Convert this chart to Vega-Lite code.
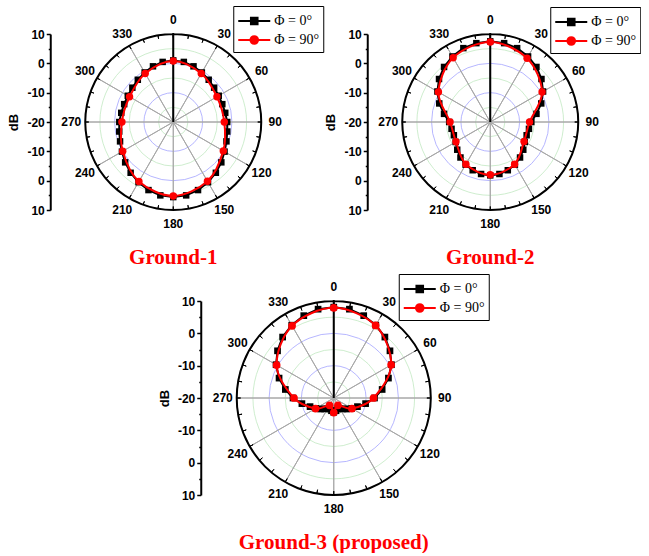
{
"$schema": "https://vega.github.io/schema/vega-lite/v6.json",
"background": "white",
"padding": {"left": 7, "top": 5, "right": 0, "bottom": 0},
"datasets": {
"spokes": [{"a":0,"a2":30},{"a":30,"a2":60},{"a":60,"a2":90},{"a":90,"a2":120},{"a":120,"a2":150},{"a":150,"a2":180},{"a":180,"a2":210},{"a":210,"a2":240},{"a":240,"a2":270},{"a":270,"a2":300},{"a":300,"a2":330},{"a":330,"a2":360}],
"circles": [{"r":5},{"r":10},{"r":15},{"r":20},{"r":25}],
"outer": [{"r":30}],
"ticks": [{"a":0},{"a":10},{"a":20},{"a":30},{"a":40},{"a":50},{"a":60},{"a":70},{"a":80},{"a":90},{"a":100},{"a":110},{"a":120},{"a":130},{"a":140},{"a":150},{"a":160},{"a":170},{"a":180},{"a":190},{"a":200},{"a":210},{"a":220},{"a":230},{"a":240},{"a":250},{"a":260},{"a":270},{"a":280},{"a":290},{"a":300},{"a":310},{"a":320},{"a":330},{"a":340},{"a":350}],
"g1": [
{"a":0,"db":1.0,"s":"Φ = 0°"},{"a":10,"db":0.8,"s":"Φ = 0°"},{"a":20,"db":0.2,"s":"Φ = 0°"},{"a":30,"db":-0.5,"s":"Φ = 0°"},{"a":40,"db":-1.2,"s":"Φ = 0°"},{"a":50,"db":-1.8,"s":"Φ = 0°"},{"a":60,"db":-2.1,"s":"Φ = 0°"},{"a":70,"db":-2.2,"s":"Φ = 0°"},{"a":80,"db":-2.0,"s":"Φ = 0°"},{"a":90,"db":-1.6,"s":"Φ = 0°"},{"a":100,"db":-1.3,"s":"Φ = 0°"},{"a":110,"db":-0.7,"s":"Φ = 0°"},{"a":120,"db":0.2,"s":"Φ = 0°"},{"a":130,"db":1.4,"s":"Φ = 0°"},{"a":140,"db":2.6,"s":"Φ = 0°"},{"a":150,"db":3.7,"s":"Φ = 0°"},{"a":160,"db":4.7,"s":"Φ = 0°"},{"a":170,"db":5.4,"s":"Φ = 0°"},{"a":180,"db":5.6,"s":"Φ = 0°"},{"a":190,"db":5.4,"s":"Φ = 0°"},{"a":200,"db":4.7,"s":"Φ = 0°"},{"a":210,"db":3.7,"s":"Φ = 0°"},{"a":220,"db":2.6,"s":"Φ = 0°"},{"a":230,"db":1.4,"s":"Φ = 0°"},{"a":240,"db":0.2,"s":"Φ = 0°"},{"a":250,"db":-0.7,"s":"Φ = 0°"},{"a":260,"db":-1.3,"s":"Φ = 0°"},{"a":270,"db":-1.6,"s":"Φ = 0°"},{"a":280,"db":-2.0,"s":"Φ = 0°"},{"a":290,"db":-2.2,"s":"Φ = 0°"},{"a":300,"db":-2.1,"s":"Φ = 0°"},{"a":310,"db":-1.8,"s":"Φ = 0°"},{"a":320,"db":-1.2,"s":"Φ = 0°"},{"a":330,"db":-0.5,"s":"Φ = 0°"},{"a":340,"db":0.2,"s":"Φ = 0°"},{"a":350,"db":0.8,"s":"Φ = 0°"},
{"a":0,"db":0.8,"s":"Φ = 90°"},{"a":30,"db":-0.9,"s":"Φ = 90°"},{"a":60,"db":-2.8,"s":"Φ = 90°"},{"a":90,"db":-2.6,"s":"Φ = 90°"},{"a":120,"db":-0.3,"s":"Φ = 90°"},{"a":150,"db":3.3,"s":"Φ = 90°"},{"a":180,"db":5.2,"s":"Φ = 90°"},{"a":210,"db":3.4,"s":"Φ = 90°"},{"a":240,"db":-0.1,"s":"Φ = 90°"},{"a":270,"db":-2.5,"s":"Φ = 90°"},{"a":300,"db":-2.8,"s":"Φ = 90°"},{"a":330,"db":-0.9,"s":"Φ = 90°"}
],
"g2": [
{"a":0,"db":7.5,"s":"Φ = 0°"},{"a":10,"db":7.3,"s":"Φ = 0°"},{"a":20,"db":6.8,"s":"Φ = 0°"},{"a":30,"db":5.8,"s":"Φ = 0°"},{"a":40,"db":4.5,"s":"Φ = 0°"},{"a":50,"db":2.8,"s":"Φ = 0°"},{"a":60,"db":0.8,"s":"Φ = 0°"},{"a":70,"db":-1.5,"s":"Φ = 0°"},{"a":80,"db":-4.0,"s":"Φ = 0°"},{"a":90,"db":-6.0,"s":"Φ = 0°"},{"a":100,"db":-6.6,"s":"Φ = 0°"},{"a":110,"db":-6.8,"s":"Φ = 0°"},{"a":120,"db":-6.4,"s":"Φ = 0°"},{"a":130,"db":-5.3,"s":"Φ = 0°"},{"a":140,"db":-4.2,"s":"Φ = 0°"},{"a":150,"db":-3.2,"s":"Φ = 0°"},{"a":160,"db":-2.5,"s":"Φ = 0°"},{"a":170,"db":-2.0,"s":"Φ = 0°"},{"a":180,"db":-1.8,"s":"Φ = 0°"},{"a":190,"db":-2.0,"s":"Φ = 0°"},{"a":200,"db":-2.5,"s":"Φ = 0°"},{"a":210,"db":-3.2,"s":"Φ = 0°"},{"a":220,"db":-4.2,"s":"Φ = 0°"},{"a":230,"db":-5.3,"s":"Φ = 0°"},{"a":240,"db":-6.4,"s":"Φ = 0°"},{"a":250,"db":-6.8,"s":"Φ = 0°"},{"a":260,"db":-6.6,"s":"Φ = 0°"},{"a":270,"db":-6.0,"s":"Φ = 0°"},{"a":280,"db":-4.0,"s":"Φ = 0°"},{"a":290,"db":-1.5,"s":"Φ = 0°"},{"a":300,"db":0.8,"s":"Φ = 0°"},{"a":310,"db":2.8,"s":"Φ = 0°"},{"a":320,"db":4.5,"s":"Φ = 0°"},{"a":330,"db":5.8,"s":"Φ = 0°"},{"a":340,"db":6.8,"s":"Φ = 0°"},{"a":350,"db":7.3,"s":"Φ = 0°"},
{"a":0,"db":7.3,"s":"Φ = 90°"},{"a":30,"db":5.1,"s":"Φ = 90°"},{"a":60,"db":0.4,"s":"Φ = 90°"},{"a":90,"db":-6.6,"s":"Φ = 90°"},{"a":120,"db":-6.7,"s":"Φ = 90°"},{"a":150,"db":-3.4,"s":"Φ = 90°"},{"a":180,"db":-2.0,"s":"Φ = 90°"},{"a":210,"db":-3.4,"s":"Φ = 90°"},{"a":240,"db":-6.5,"s":"Φ = 90°"},{"a":270,"db":-6.3,"s":"Φ = 90°"},{"a":300,"db":0.4,"s":"Φ = 90°"},{"a":330,"db":5.3,"s":"Φ = 90°"}
],
"g3": [
{"a":0,"db":8.1,"s":"Φ = 0°"},{"a":10,"db":7.9,"s":"Φ = 0°"},{"a":20,"db":7.1,"s":"Φ = 0°"},{"a":30,"db":6.0,"s":"Φ = 0°"},{"a":40,"db":4.6,"s":"Φ = 0°"},{"a":50,"db":2.7,"s":"Φ = 0°"},{"a":60,"db":0.6,"s":"Φ = 0°"},{"a":70,"db":-2.0,"s":"Φ = 0°"},{"a":80,"db":-4.8,"s":"Φ = 0°"},{"a":90,"db":-7.4,"s":"Φ = 0°"},{"a":100,"db":-10.0,"s":"Φ = 0°"},{"a":110,"db":-12.2,"s":"Φ = 0°"},{"a":120,"db":-13.6,"s":"Φ = 0°"},{"a":130,"db":-14.7,"s":"Φ = 0°"},{"a":140,"db":-15.6,"s":"Φ = 0°"},{"a":150,"db":-16.2,"s":"Φ = 0°"},{"a":160,"db":-16.4,"s":"Φ = 0°"},{"a":170,"db":-16.0,"s":"Φ = 0°"},{"a":180,"db":-15.6,"s":"Φ = 0°"},{"a":190,"db":-16.0,"s":"Φ = 0°"},{"a":200,"db":-16.4,"s":"Φ = 0°"},{"a":210,"db":-16.2,"s":"Φ = 0°"},{"a":220,"db":-15.6,"s":"Φ = 0°"},{"a":230,"db":-14.7,"s":"Φ = 0°"},{"a":240,"db":-13.6,"s":"Φ = 0°"},{"a":250,"db":-12.2,"s":"Φ = 0°"},{"a":260,"db":-10.0,"s":"Φ = 0°"},{"a":270,"db":-7.4,"s":"Φ = 0°"},{"a":280,"db":-4.8,"s":"Φ = 0°"},{"a":290,"db":-2.0,"s":"Φ = 0°"},{"a":300,"db":0.6,"s":"Φ = 0°"},{"a":310,"db":2.7,"s":"Φ = 0°"},{"a":320,"db":4.6,"s":"Φ = 0°"},{"a":330,"db":6.0,"s":"Φ = 0°"},{"a":340,"db":7.1,"s":"Φ = 0°"},{"a":350,"db":7.9,"s":"Φ = 0°"},
{"a":0,"db":7.9,"s":"Φ = 90°"},{"a":30,"db":5.9,"s":"Φ = 90°"},{"a":60,"db":0.5,"s":"Φ = 90°"},{"a":90,"db":-7.7,"s":"Φ = 90°"},{"a":120,"db":-13.5,"s":"Φ = 90°"},{"a":150,"db":-17.4,"s":"Φ = 90°"},{"a":180,"db":-15.5,"s":"Φ = 90°"},{"a":210,"db":-17.4,"s":"Φ = 90°"},{"a":240,"db":-13.5,"s":"Φ = 90°"},{"a":270,"db":-7.7,"s":"Φ = 90°"},{"a":300,"db":0.4,"s":"Φ = 90°"},{"a":330,"db":5.8,"s":"Φ = 90°"}
]
},
"vconcat": [
{"hconcat": [
{"width": 176, "height": 176, "title": {"text": "Ground-1"},
 "layer": [
  {"data": {"name": "circles"}, "mark": {"type": "arc", "filled": false, "strokeWidth": 0.8},
   "encoding": {"theta": {"datum": 0, "scale": {"domain": [0, 360], "range": [0, 6.283185307]}}, "theta2": {"datum": 360}, "radius": {"field": "r", "type": "quantitative", "stack": null, "scale": {"type": "linear", "domain": [0, 30], "range": [0, 88], "zero": true}}, "stroke": {"condition": {"test": "datum.r % 10 == 0", "value": "#a3a3ff"}, "value": "#c2e8c2"}}},
  {"data": {"name": "spokes"}, "mark": {"type": "arc", "filled": false, "stroke": "#a8a8a8", "strokeWidth": 1},
   "encoding": {"theta": {"field": "a", "type": "quantitative", "scale": {"domain": [0, 360], "range": [0, 6.283185307]}}, "theta2": {"field": "a2"}, "radius": {"datum": 30, "scale": {"type": "linear", "domain": [0, 30], "range": [0, 88], "zero": true}}}},
  {"data": {"name": "ticks"}, "mark": {"type": "arc", "filled": false, "stroke": "#000000", "strokeWidth": 1},
   "encoding": {"theta": {"field": "a", "type": "quantitative", "scale": {"domain": [0, 360], "range": [0, 6.283185307]}}, "theta2": {"field": "a"}, "radius": {"datum": 30, "scale": {"type": "linear", "domain": [0, 30], "range": [0, 88], "zero": true}}, "radius2": {"datum": 28.8}}},
  {"data": {"name": "outer"}, "mark": {"type": "arc", "filled": false, "stroke": "#000000", "strokeWidth": 2},
   "encoding": {"theta": {"datum": 0, "scale": {"domain": [0, 360], "range": [0, 6.283185307]}}, "theta2": {"datum": 360}, "radius": {"field": "r", "type": "quantitative", "stack": null, "scale": {"type": "linear", "domain": [0, 30], "range": [0, 88], "zero": true}}}},
  {"data": {"name": "spokes"}, "mark": {"type": "text", "font": "Liberation Sans", "fontSize": 12, "fontWeight": "bold", "color": "#000000", "radiusOffset": 14, "align": "center", "baseline": "middle"},
   "encoding": {"theta": {"field": "a", "type": "quantitative", "scale": {"domain": [0, 360], "range": [0, 6.283185307]}}, "radius": {"datum": 30, "scale": {"type": "linear", "domain": [0, 30], "range": [0, 88], "zero": true}}, "text": {"field": "a", "type": "quantitative"}}},
  {"data": {"name": "g1"}, "transform": [{"filter": "datum.s == 'Φ = 0°'"}, {"calculate": "(datum.db + 20) * sin(datum.a * PI / 180)", "as": "x"}, {"calculate": "(datum.db + 20) * cos(datum.a * PI / 180)", "as": "y"}],
   "mark": {"type": "line", "interpolate": "linear-closed", "strokeWidth": 2},
   "encoding": {"x": {"field": "x", "type": "quantitative", "scale": {"domain": [-30, 30], "nice": false, "zero": false}, "axis": null},
    "y": {"field": "y", "type": "quantitative", "scale": {"domain": [-30, 30], "nice": false, "zero": false}, "axis": {"title": "dB", "offset": 35, "tickCount": 40, "labelOverlap": false, "labelBound": false, "values": [-30,-25,-20,-15,-10,-5,0,5,10,15,20,25,30], "labelExpr": "datum.value % 10 == 0 ? '' + (abs(datum.value) - 20) : ''", "tickSize": {"condition": {"test": "datum.value % 10 == 0", "value": 4}, "value": 2}}},
    "order": {"field": "a", "type": "quantitative"},
    "color": {"field": "s", "type": "nominal", "scale": {"domain": ["Φ = 0°", "Φ = 90°"], "range": ["#000000", "#ff0000"]},
     "legend": {"title": null, "orient": "none", "legendX": 148, "legendY": -28,
      "encode": {"symbols": {"update": {"shape": {"signal": "datum.value == 'Φ = 0°' ? 'M-1.6,0H1.6M-0.33,-0.33H0.33V0.33H-0.33Z' : 'M-1.6,0H1.6M0.38,0A0.38,0.38,0,1,1,-0.38,0A0.38,0.38,0,1,1,0.38,0Z'"}, "fill": {"signal": "datum.value == 'Φ = 0°' ? '#000000' : '#ff0000'"}, "stroke": {"signal": "datum.value == 'Φ = 0°' ? '#000000' : '#ff0000'"}}}}}}}},
  {"data": {"name": "g1"}, "transform": [{"filter": "datum.s == 'Φ = 0°'"}, {"calculate": "(datum.db + 20) * sin(datum.a * PI / 180)", "as": "x"}, {"calculate": "(datum.db + 20) * cos(datum.a * PI / 180)", "as": "y"}],
   "mark": {"type": "point", "shape": "square", "filled": true, "size": 42, "opacity": 1},
   "encoding": {"x": {"field": "x", "type": "quantitative", "axis": null}, "y": {"field": "y", "type": "quantitative"},
    "color": {"field": "s", "type": "nominal", "scale": {"domain": ["Φ = 0°", "Φ = 90°"], "range": ["#000000", "#ff0000"]}}}},
  {"data": {"name": "g1"}, "transform": [{"filter": "datum.s == 'Φ = 90°'"}, {"calculate": "(datum.db + 20) * sin(datum.a * PI / 180)", "as": "x"}, {"calculate": "(datum.db + 20) * cos(datum.a * PI / 180)", "as": "y"}],
   "mark": {"type": "line", "interpolate": "cardinal-closed", "strokeWidth": 2},
   "encoding": {"x": {"field": "x", "type": "quantitative", "axis": null}, "y": {"field": "y", "type": "quantitative"}, "order": {"field": "a", "type": "quantitative"},
    "color": {"field": "s", "type": "nominal", "scale": {"domain": ["Φ = 0°", "Φ = 90°"], "range": ["#000000", "#ff0000"]}}}},
  {"data": {"name": "g1"}, "transform": [{"filter": "datum.s == 'Φ = 90°'"}, {"calculate": "(datum.db + 20) * sin(datum.a * PI / 180)", "as": "x"}, {"calculate": "(datum.db + 20) * cos(datum.a * PI / 180)", "as": "y"}],
   "mark": {"type": "point", "shape": "circle", "filled": true, "size": 55, "opacity": 1},
   "encoding": {"x": {"field": "x", "type": "quantitative", "axis": null}, "y": {"field": "y", "type": "quantitative"},
    "color": {"field": "s", "type": "nominal", "scale": {"domain": ["Φ = 0°", "Φ = 90°"], "range": ["#000000", "#ff0000"]}}}}
 ]},
{"width": 176, "height": 176, "title": {"text": "Ground-2"},
 "layer": [
  {"data": {"name": "circles"}, "mark": {"type": "arc", "filled": false, "strokeWidth": 0.8},
   "encoding": {"theta": {"datum": 0, "scale": {"domain": [0, 360], "range": [0, 6.283185307]}}, "theta2": {"datum": 360}, "radius": {"field": "r", "type": "quantitative", "stack": null, "scale": {"type": "linear", "domain": [0, 30], "range": [0, 88], "zero": true}}, "stroke": {"condition": {"test": "datum.r % 10 == 0", "value": "#a3a3ff"}, "value": "#c2e8c2"}}},
  {"data": {"name": "spokes"}, "mark": {"type": "arc", "filled": false, "stroke": "#a8a8a8", "strokeWidth": 1},
   "encoding": {"theta": {"field": "a", "type": "quantitative", "scale": {"domain": [0, 360], "range": [0, 6.283185307]}}, "theta2": {"field": "a2"}, "radius": {"datum": 30, "scale": {"type": "linear", "domain": [0, 30], "range": [0, 88], "zero": true}}}},
  {"data": {"name": "ticks"}, "mark": {"type": "arc", "filled": false, "stroke": "#000000", "strokeWidth": 1},
   "encoding": {"theta": {"field": "a", "type": "quantitative", "scale": {"domain": [0, 360], "range": [0, 6.283185307]}}, "theta2": {"field": "a"}, "radius": {"datum": 30, "scale": {"type": "linear", "domain": [0, 30], "range": [0, 88], "zero": true}}, "radius2": {"datum": 28.8}}},
  {"data": {"name": "outer"}, "mark": {"type": "arc", "filled": false, "stroke": "#000000", "strokeWidth": 2},
   "encoding": {"theta": {"datum": 0, "scale": {"domain": [0, 360], "range": [0, 6.283185307]}}, "theta2": {"datum": 360}, "radius": {"field": "r", "type": "quantitative", "stack": null, "scale": {"type": "linear", "domain": [0, 30], "range": [0, 88], "zero": true}}}},
  {"data": {"name": "spokes"}, "mark": {"type": "text", "font": "Liberation Sans", "fontSize": 12, "fontWeight": "bold", "color": "#000000", "radiusOffset": 14, "align": "center", "baseline": "middle"},
   "encoding": {"theta": {"field": "a", "type": "quantitative", "scale": {"domain": [0, 360], "range": [0, 6.283185307]}}, "radius": {"datum": 30, "scale": {"type": "linear", "domain": [0, 30], "range": [0, 88], "zero": true}}, "text": {"field": "a", "type": "quantitative"}}},
  {"data": {"name": "g2"}, "transform": [{"filter": "datum.s == 'Φ = 0°'"}, {"calculate": "(datum.db + 20) * sin(datum.a * PI / 180)", "as": "x"}, {"calculate": "(datum.db + 20) * cos(datum.a * PI / 180)", "as": "y"}],
   "mark": {"type": "line", "interpolate": "linear-closed", "strokeWidth": 2},
   "encoding": {"x": {"field": "x", "type": "quantitative", "scale": {"domain": [-30, 30], "nice": false, "zero": false}, "axis": null},
    "y": {"field": "y", "type": "quantitative", "scale": {"domain": [-30, 30], "nice": false, "zero": false}, "axis": {"title": "dB", "offset": 35, "tickCount": 40, "labelOverlap": false, "labelBound": false, "values": [-30,-25,-20,-15,-10,-5,0,5,10,15,20,25,30], "labelExpr": "datum.value % 10 == 0 ? '' + (abs(datum.value) - 20) : ''", "tickSize": {"condition": {"test": "datum.value % 10 == 0", "value": 4}, "value": 2}}},
    "order": {"field": "a", "type": "quantitative"},
    "color": {"field": "s", "type": "nominal", "scale": {"domain": ["Φ = 0°", "Φ = 90°"], "range": ["#000000", "#ff0000"]},
     "legend": {"title": null, "orient": "none", "legendX": 148, "legendY": -27,
      "encode": {"symbols": {"update": {"shape": {"signal": "datum.value == 'Φ = 0°' ? 'M-1.6,0H1.6M-0.33,-0.33H0.33V0.33H-0.33Z' : 'M-1.6,0H1.6M0.38,0A0.38,0.38,0,1,1,-0.38,0A0.38,0.38,0,1,1,0.38,0Z'"}, "fill": {"signal": "datum.value == 'Φ = 0°' ? '#000000' : '#ff0000'"}, "stroke": {"signal": "datum.value == 'Φ = 0°' ? '#000000' : '#ff0000'"}}}}}}}},
  {"data": {"name": "g2"}, "transform": [{"filter": "datum.s == 'Φ = 0°'"}, {"calculate": "(datum.db + 20) * sin(datum.a * PI / 180)", "as": "x"}, {"calculate": "(datum.db + 20) * cos(datum.a * PI / 180)", "as": "y"}],
   "mark": {"type": "point", "shape": "square", "filled": true, "size": 42, "opacity": 1},
   "encoding": {"x": {"field": "x", "type": "quantitative", "axis": null}, "y": {"field": "y", "type": "quantitative"},
    "color": {"field": "s", "type": "nominal", "scale": {"domain": ["Φ = 0°", "Φ = 90°"], "range": ["#000000", "#ff0000"]}}}},
  {"data": {"name": "g2"}, "transform": [{"filter": "datum.s == 'Φ = 90°'"}, {"calculate": "(datum.db + 20) * sin(datum.a * PI / 180)", "as": "x"}, {"calculate": "(datum.db + 20) * cos(datum.a * PI / 180)", "as": "y"}],
   "mark": {"type": "line", "interpolate": "cardinal-closed", "strokeWidth": 2},
   "encoding": {"x": {"field": "x", "type": "quantitative", "axis": null}, "y": {"field": "y", "type": "quantitative"}, "order": {"field": "a", "type": "quantitative"},
    "color": {"field": "s", "type": "nominal", "scale": {"domain": ["Φ = 0°", "Φ = 90°"], "range": ["#000000", "#ff0000"]}}}},
  {"data": {"name": "g2"}, "transform": [{"filter": "datum.s == 'Φ = 90°'"}, {"calculate": "(datum.db + 20) * sin(datum.a * PI / 180)", "as": "x"}, {"calculate": "(datum.db + 20) * cos(datum.a * PI / 180)", "as": "y"}],
   "mark": {"type": "point", "shape": "circle", "filled": true, "size": 55, "opacity": 1},
   "encoding": {"x": {"field": "x", "type": "quantitative", "axis": null}, "y": {"field": "y", "type": "quantitative"},
    "color": {"field": "s", "type": "nominal", "scale": {"domain": ["Φ = 0°", "Φ = 90°"], "range": ["#000000", "#ff0000"]}}}}
 ]}
], "spacing": 0, "bounds": "full",
 "resolve": {"scale": {"color": "independent", "theta": "independent", "radius": "independent"}, "legend": {"color": "independent"}}},
{"width": 194, "height": 194, "title": {"text": "Ground-3 (proposed)"},
 "layer": [
  {"data": {"name": "circles"}, "mark": {"type": "arc", "filled": false, "strokeWidth": 0.8},
   "encoding": {"theta": {"datum": 0, "scale": {"domain": [0, 360], "range": [0, 6.283185307]}}, "theta2": {"datum": 360}, "radius": {"field": "r", "type": "quantitative", "stack": null, "scale": {"type": "linear", "domain": [0, 30], "range": [0, 97], "zero": true}}, "stroke": {"condition": {"test": "datum.r % 10 == 0", "value": "#a3a3ff"}, "value": "#c2e8c2"}}},
  {"data": {"name": "spokes"}, "mark": {"type": "arc", "filled": false, "stroke": "#a8a8a8", "strokeWidth": 1},
   "encoding": {"theta": {"field": "a", "type": "quantitative", "scale": {"domain": [0, 360], "range": [0, 6.283185307]}}, "theta2": {"field": "a2"}, "radius": {"datum": 30, "scale": {"type": "linear", "domain": [0, 30], "range": [0, 97], "zero": true}}}},
  {"data": {"name": "ticks"}, "mark": {"type": "arc", "filled": false, "stroke": "#000000", "strokeWidth": 1},
   "encoding": {"theta": {"field": "a", "type": "quantitative", "scale": {"domain": [0, 360], "range": [0, 6.283185307]}}, "theta2": {"field": "a"}, "radius": {"datum": 30, "scale": {"type": "linear", "domain": [0, 30], "range": [0, 97], "zero": true}}, "radius2": {"datum": 28.8}}},
  {"data": {"name": "outer"}, "mark": {"type": "arc", "filled": false, "stroke": "#000000", "strokeWidth": 2},
   "encoding": {"theta": {"datum": 0, "scale": {"domain": [0, 360], "range": [0, 6.283185307]}}, "theta2": {"datum": 360}, "radius": {"field": "r", "type": "quantitative", "stack": null, "scale": {"type": "linear", "domain": [0, 30], "range": [0, 97], "zero": true}}}},
  {"data": {"name": "spokes"}, "mark": {"type": "text", "font": "Liberation Sans", "fontSize": 12, "fontWeight": "bold", "color": "#000000", "radiusOffset": 14, "align": "center", "baseline": "middle"},
   "encoding": {"theta": {"field": "a", "type": "quantitative", "scale": {"domain": [0, 360], "range": [0, 6.283185307]}}, "radius": {"datum": 30, "scale": {"type": "linear", "domain": [0, 30], "range": [0, 97], "zero": true}}, "text": {"field": "a", "type": "quantitative"}}},
  {"data": {"name": "g3"}, "transform": [{"filter": "datum.s == 'Φ = 0°'"}, {"calculate": "(datum.db + 20) * sin(datum.a * PI / 180)", "as": "x"}, {"calculate": "(datum.db + 20) * cos(datum.a * PI / 180)", "as": "y"}],
   "mark": {"type": "line", "interpolate": "linear-closed", "strokeWidth": 2},
   "encoding": {"x": {"field": "x", "type": "quantitative", "scale": {"domain": [-30, 30], "nice": false, "zero": false}, "axis": null},
    "y": {"field": "y", "type": "quantitative", "scale": {"domain": [-30, 30], "nice": false, "zero": false}, "axis": {"title": "dB", "offset": 36, "tickCount": 40, "labelOverlap": false, "labelBound": false, "values": [-30,-25,-20,-15,-10,-5,0,5,10,15,20,25,30], "labelExpr": "datum.value % 10 == 0 ? '' + (abs(datum.value) - 20) : ''", "tickSize": {"condition": {"test": "datum.value % 10 == 0", "value": 4}, "value": 2}}},
    "order": {"field": "a", "type": "quantitative"},
    "color": {"field": "s", "type": "nominal", "scale": {"domain": ["Φ = 0°", "Φ = 90°"], "range": ["#000000", "#ff0000"]},
     "legend": {"title": null, "orient": "none", "legendX": 162, "legendY": -27,
      "encode": {"symbols": {"update": {"shape": {"signal": "datum.value == 'Φ = 0°' ? 'M-1.6,0H1.6M-0.33,-0.33H0.33V0.33H-0.33Z' : 'M-1.6,0H1.6M0.38,0A0.38,0.38,0,1,1,-0.38,0A0.38,0.38,0,1,1,0.38,0Z'"}, "fill": {"signal": "datum.value == 'Φ = 0°' ? '#000000' : '#ff0000'"}, "stroke": {"signal": "datum.value == 'Φ = 0°' ? '#000000' : '#ff0000'"}}}}}}}},
  {"data": {"name": "g3"}, "transform": [{"filter": "datum.s == 'Φ = 0°'"}, {"calculate": "(datum.db + 20) * sin(datum.a * PI / 180)", "as": "x"}, {"calculate": "(datum.db + 20) * cos(datum.a * PI / 180)", "as": "y"}],
   "mark": {"type": "point", "shape": "square", "filled": true, "size": 45, "opacity": 1},
   "encoding": {"x": {"field": "x", "type": "quantitative", "axis": null}, "y": {"field": "y", "type": "quantitative"},
    "color": {"field": "s", "type": "nominal", "scale": {"domain": ["Φ = 0°", "Φ = 90°"], "range": ["#000000", "#ff0000"]}}}},
  {"data": {"name": "g3"}, "transform": [{"filter": "datum.s == 'Φ = 90°'"}, {"calculate": "(datum.db + 20) * sin(datum.a * PI / 180)", "as": "x"}, {"calculate": "(datum.db + 20) * cos(datum.a * PI / 180)", "as": "y"}],
   "mark": {"type": "line", "interpolate": "cardinal-closed", "strokeWidth": 2},
   "encoding": {"x": {"field": "x", "type": "quantitative", "axis": null}, "y": {"field": "y", "type": "quantitative"}, "order": {"field": "a", "type": "quantitative"},
    "color": {"field": "s", "type": "nominal", "scale": {"domain": ["Φ = 0°", "Φ = 90°"], "range": ["#000000", "#ff0000"]}}}},
  {"data": {"name": "g3"}, "transform": [{"filter": "datum.s == 'Φ = 90°'"}, {"calculate": "(datum.db + 20) * sin(datum.a * PI / 180)", "as": "x"}, {"calculate": "(datum.db + 20) * cos(datum.a * PI / 180)", "as": "y"}],
   "mark": {"type": "point", "shape": "circle", "filled": true, "size": 60, "opacity": 1},
   "encoding": {"x": {"field": "x", "type": "quantitative", "axis": null}, "y": {"field": "y", "type": "quantitative"},
    "color": {"field": "s", "type": "nominal", "scale": {"domain": ["Φ = 0°", "Φ = 90°"], "range": ["#000000", "#ff0000"]}}}}
 ]}
],
"spacing": 5,
"center": true,
"bounds": "full",
"resolve": {"scale": {"color": "independent", "theta": "independent", "radius": "independent"}, "legend": {"color": "independent"}},
"config": {
 "view": {"stroke": null},
 "axis": {"labelOverlap": false},
 "axisY": {"domainColor": "#000000", "domainWidth": 2, "tickColor": "#000000", "tickWidth": 1.5, "labelFont": "Liberation Sans", "labelFontWeight": "bold", "labelFontSize": 12, "labelColor": "#000000", "labelPadding": 2, "titleFont": "Liberation Sans", "titleFontWeight": "bold", "titleFontSize": 13, "titleColor": "#000000", "titlePadding": 6, "grid": false, "labelFlush": false, "labelOverlap": false},
 "legend": {"strokeColor": "#000000", "fillColor": "#ffffff", "padding": 4, "labelFont": "Liberation Serif", "labelFontSize": 14, "labelColor": "#000000", "labelOffset": 9, "rowPadding": 0, "symbolSize": 400, "symbolOffset": 6, "symbolStrokeWidth": 2, "symbolOpacity": 1, "direction": "vertical"},
 "title": {"orient": "bottom", "anchor": "middle", "frame": "group", "color": "#ff0000", "font": "Liberation Serif", "fontSize": 21, "fontWeight": "bold", "offset": 17}
}
}
